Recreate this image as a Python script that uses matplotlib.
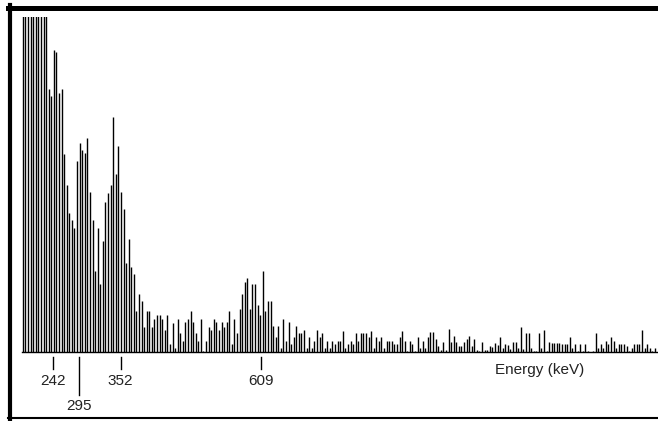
import matplotlib
matplotlib.use("Agg")
import matplotlib.pyplot as plt
from matplotlib.lines import Line2D
from matplotlib.transforms import blended_transform_factory
import numpy as np

plt.rcParams['font.family'] = ['Liberation Sans', 'DejaVu Sans']

# counts per channel (arbitrary units; first channels run off the top)
counts_low = [400, 400, 400, 400, 400, 400, 400, 400, 400, 400,
              263, 256, 302, 300, 259, 263, 198, 167, 139, 132,
              124, 191, 209, 202, 199, 214, 160, 132, 81, 124,
              68, 111, 150, 159, 167, 235, 178, 206, 160, 143,
              89, 113, 85, 78, 41, 58, 51, 25, 41, 41,
              25, 33, 37, 37, 33, 22, 37, 8, 29, 4,
              33, 19, 11, 30, 33, 41, 30, 19, 11, 33]
counts_mid = [1, 11, 25, 22, 33, 30, 22, 30, 25, 30,
              41, 8, 33, 19, 43, 58, 70, 74, 43, 68,
              68, 47, 37, 81, 41, 51, 51, 26, 15, 26,
              4, 33, 11, 30, 8, 15, 26, 19, 19, 22,
              4, 15, 4, 11, 22, 15, 19, 4, 11, 4]
counts_high = [11, 8, 11, 11, 21, 4, 8, 11, 8, 19,
               11, 19, 19, 19, 15, 21, 4, 15, 11, 15,
               4, 11, 11, 11, 8, 8, 15, 21, 11, 1,
               11, 8, 1, 15, 4, 11, 4, 15, 20, 20,
               13, 6, 2, 10, 2, 23, 10, 16, 10, 6,
               6, 10, 13, 16, 6, 13, 2, 1, 10, 2,
               2, 6]
counts_tail = [5, 9, 7, 15, 4, 8, 7, 3, 10, 10,
               4, 25, 3, 19, 19, 4, 1, 1, 19, 4,
               22, 1, 10, 9, 9, 9, 9, 8, 8, 8,
               15, 4, 8, 1, 8, 1, 8, 1, 0.5, 1,
               19, 4, 8, 4, 11, 8, 15, 11, 4, 8,
               8, 8, 6, 1, 4, 8, 8, 8, 22, 4,
               8, 4, 1, 4]
counts = counts_low + counts_mid + counts_high + counts_tail
channels = np.arange(len(counts))

# labelled peaks: energy (keV) and the channel the tick sits on
tick_energies = ['242', '295', '352', '609']
tick_channels = [11.8, 21.7, 37.9, 92.3]
tick_long = [False, True, False, False]

W, H = 658, 421
fig = plt.figure(figsize=(W / 100, H / 100), dpi=100)
ax = fig.add_axes([22 / W, (H - 352) / H, 1 - 22 / W, 335 / H])

ax.vlines(channels, 0, counts, color='black', lw=1.0)
ax.set_xlim(-0.35, 246.2)
ax.set_ylim(0, 335)
for s in ['top', 'right', 'left']:
    ax.spines[s].set_visible(False)
ax.spines['bottom'].set_linewidth(1.0)
ax.set_xticks([])
ax.set_yticks([])

# ticks and labels under the baseline
tr = blended_transform_factory(ax.transData, fig.transFigure)
for e, c, lng in zip(tick_energies, tick_channels, tick_long):
    y_end = 395 if lng else 369
    ax.plot([c, c], [(H - 357) / H, (H - y_end) / H], color='black', lw=1.0,
            transform=tr, clip_on=False)
    y_lab = 406 if lng else 381
    ax.text(c, (H - y_lab) / H, e, transform=tr, ha='center', va='center',
            fontsize=11, color='#222222')

fig.text(495 / W, (H - 370) / H, 'Energy (keV)', ha='left', va='center',
         fontsize=11, color='#222222')

# outer frame
fig.add_artist(Line2D([10 / W, 10 / W], [(H - 5) / H, (H - 419) / H],
                      transform=fig.transFigure, color='black', lw=3.0))
fig.add_artist(Line2D([8 / W, 1.0], [(H - 7.5) / H, (H - 7.5) / H],
                      transform=fig.transFigure, color='black', lw=3.6))
fig.add_artist(Line2D([8 / W, 1.0], [(H - 418) / H, (H - 418) / H],
                      transform=fig.transFigure, color='black', lw=1.5))

fig.savefig('out.png', dpi=100)
